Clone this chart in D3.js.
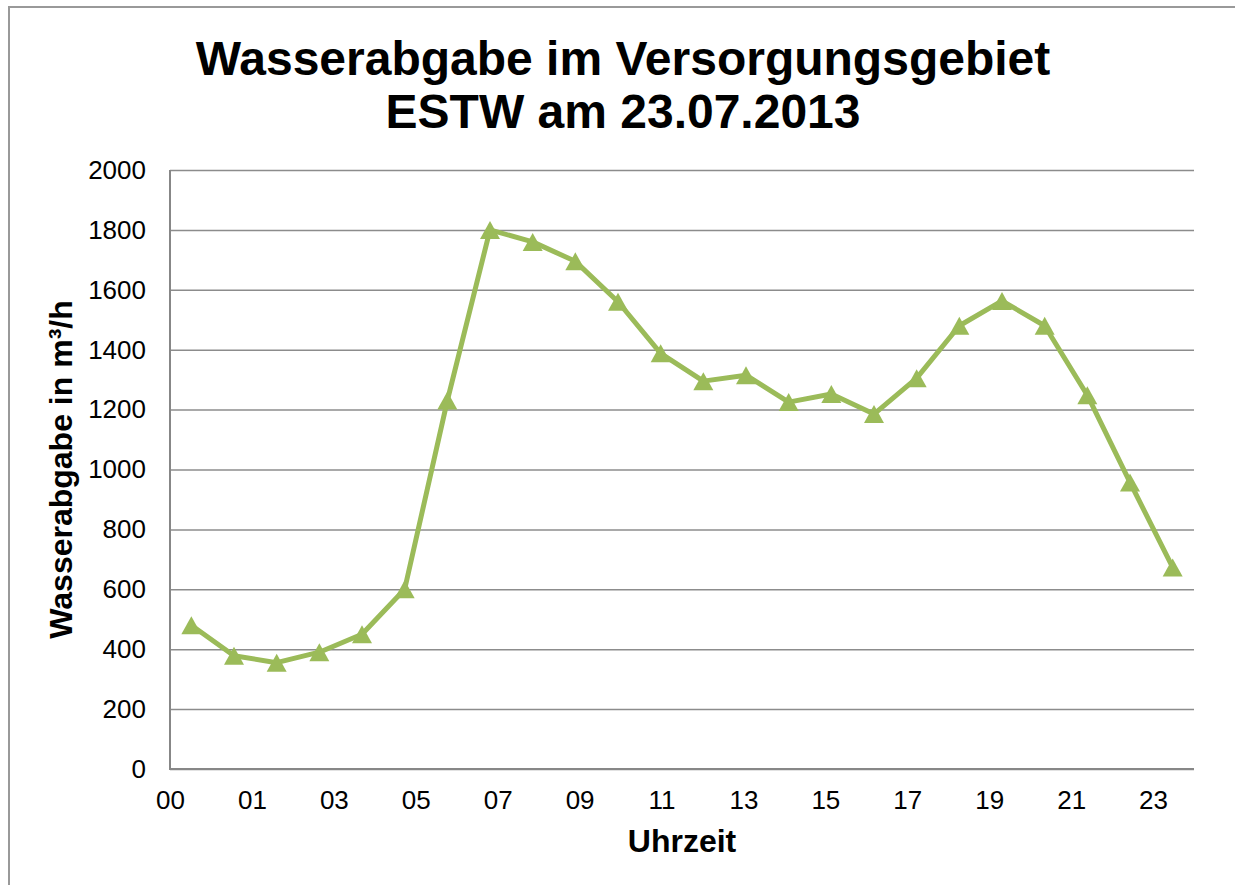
<!DOCTYPE html>
<html>
<head>
<meta charset="utf-8">
<script src="https://cdn.jsdelivr.net/npm/d3@7"></script>
<style>
  body { margin: 0; background: #fff; }
  text { font-family: "Liberation Sans", Arial, sans-serif; fill: #000; }
</style>
</head>
<body>
<div id="chart"></div>
<script>
// hourly values
var hours = ["00","01","02","03","04","05","06","07","08","09","10","11",
             "12","13","14","15","16","17","18","19","20","21","22","23"];
var abgabe = [480, 378, 355, 390, 450, 600, 1230, 1800, 1760, 1695, 1560, 1388,
              1295, 1315, 1225, 1252, 1185, 1305, 1480, 1563, 1480, 1248, 957, 673];
var xTickLabels = ["00","01","03","05","07","09","11","13","15","17","19","21","23"];
var yTicks = [0, 200, 400, 600, 800, 1000, 1200, 1400, 1600, 1800, 2000];
var titleLines = ["Wasserabgabe im Versorgungsgebiet", "ESTW am 23.07.2013"];

var width = 1235;
var height = 885;
var margin = {top: 170, right: 41, bottom: 116, left: 170};
var plotW = width - margin.left - margin.right;
var plotH = height - margin.top - margin.bottom;

var svg = d3.select("#chart").append("svg")
  .attr("width", width)
  .attr("height", height);

svg.append("rect")
  .attr("width", width).attr("height", height)
  .attr("fill", "#fff");

// outer chart frame (only top and left edges are inside the picture)
svg.append("path")
  .attr("d", "M9," + height + "V7H" + width)
  .attr("fill", "none")
  .attr("stroke", "#999")
  .attr("stroke-width", 2);

// title
svg.append("g").selectAll("text")
  .data(titleLines)
  .enter().append("text")
    .attr("x", 623)
    .attr("y", function(d, i) { return 75 + i * 53; })
    .attr("text-anchor", "middle")
    .style("font-size", "48px")
    .style("font-weight", "bold")
    .text(function(d) { return d; });

var g = svg.append("g")
  .attr("transform", "translate(" + margin.left + "," + margin.top + ")");

var x = d3.scaleBand().domain(hours).range([0, plotW]);
var y = d3.scaleLinear().domain([0, 2000]).range([plotH, 0]);
// labels sit on their own spacing, 13 labels over 12.5 steps of the axis
var xLab = d3.scalePoint().domain(xTickLabels).range([0, plotW * 12 / 12.5]);

//gridlines + y labels
var yAxis = d3.axisLeft(y).tickValues(yTicks).tickSize(-plotW).tickPadding(24)
  .tickFormat(d3.format("d"));
g.append("g")
  .attr("class", "y axis")
  .call(yAxis)
  .call(function(s) {
    s.select(".domain").remove();
    s.selectAll(".tick line").attr("stroke", "#8c8c8c").attr("stroke-width", 1.5);
    s.selectAll(".tick text")
      .style("font-size", "26px")
      .style("font-family", "'Liberation Sans', Arial, sans-serif")
      .attr("fill", "#000");
  });

// x labels
var xAxis = d3.axisBottom(xLab).tickSize(0).tickPadding(22);
g.append("g")
  .attr("class", "x axis")
  .attr("transform", "translate(0," + plotH + ")")
  .call(xAxis)
  .call(function(s) {
    s.select(".domain").remove();
    s.selectAll(".tick text")
      .style("font-size", "26px")
      .style("font-family", "'Liberation Sans', Arial, sans-serif")
      .attr("fill", "#000");
  });

// axis lines
g.append("path")
  .attr("d", "M0,0V" + plotH + "H" + plotW)
  .attr("fill", "none")
  .attr("stroke", "#878787")
  .attr("stroke-width", 2);

// axis titles
g.append("text")
  .attr("x", plotW / 2)
  .attr("y", plotH + 83)
  .attr("text-anchor", "middle")
  .style("font-size", "32px")
  .style("font-weight", "bold")
  .text("Uhrzeit");

g.append("text")
  .attr("transform", "translate(" + (72 - margin.left) + "," + (plotH / 2) + ") rotate(-90)")
  .attr("text-anchor", "middle")
  .style("font-size", "32px")
  .style("font-weight", "bold")
  .text("Wasserabgabe in m³/h");

var cx = function(d, i) { return x(hours[i]) + x.bandwidth() / 2; };

var line = d3.line()
  .x(function(d, i) { return cx(d, i); })
  .y(function(d) { return y(d); });

var green = "#9bbb59";

g.append("path")
  .datum(abgabe)
  .attr("fill", "none")
  .attr("stroke", green)
  .attr("stroke-width", 5)
  .attr("stroke-linejoin", "round")
  .attr("d", line);

// triangle markers, centred on their box like excel does
var tw = 20, th = 18;
var tri = "M0," + (-th / 2) + "L" + (tw / 2) + "," + (th / 2) + "L" + (-tw / 2) + "," + (th / 2) + "Z";
g.append("g").selectAll("path")
  .data(abgabe)
  .enter().append("path")
    .attr("d", tri)
    .attr("fill", green)
    .attr("transform", function(d, i) { return "translate(" + cx(d, i) + "," + y(d) + ")"; });
</script>
</body>
</html>
